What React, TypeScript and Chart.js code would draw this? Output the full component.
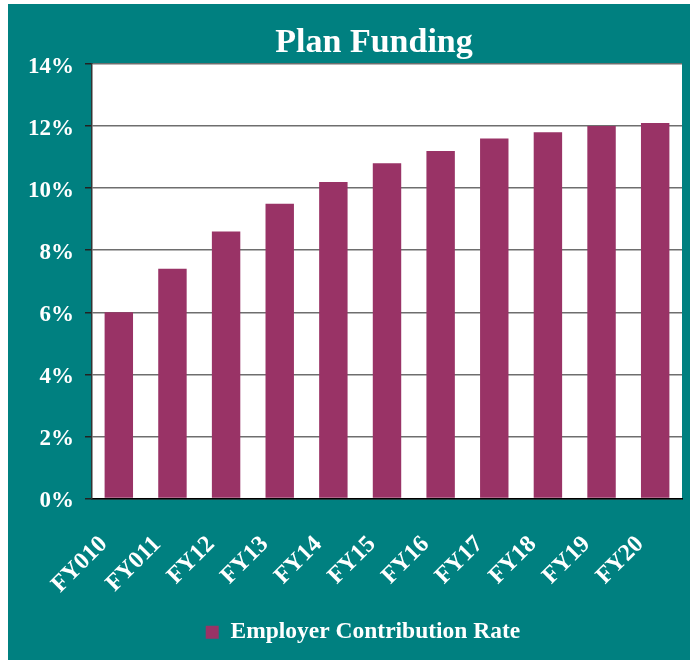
import React, { useEffect, useRef } from "react";
import { Chart, registerables } from "chart.js";

Chart.register(...registerables);

const categories = ["FY010", "FY011", "FY12", "FY13", "FY14", "FY15", "FY16", "FY17", "FY18", "FY19", "FY20"];
const employerRates = [6.0, 7.4, 8.6, 9.5, 10.2, 10.8, 11.2, 11.6, 11.8, 12.0, 12.1];
const seriesLabel = "Employer Contribution Rate";
const chartTitle = "Plan Funding";
const yMin = 0;
const yMax = 14;
const yStep = 2;

const SERIF = "'Liberation Serif', 'Times New Roman', serif";
const TEAL = "#008080";
const MAROON = "#993366";

const plotBg = {
  id: "plotBg",
  beforeDraw(chart: any) {
    const { ctx, chartArea } = chart;
    if (!chartArea) return;
    ctx.save();
    ctx.fillStyle = "#ffffff";
    ctx.fillRect(chartArea.left, chartArea.top, chartArea.right - chartArea.left, chartArea.bottom - chartArea.top);
    ctx.restore();
  },
};

const titlePlugin = {
  id: "titleText",
  afterDraw(chart: any) {
    const { ctx } = chart;
    ctx.save();
    ctx.fillStyle = "#ffffff";
    ctx.font = `bold 34px ${SERIF}`;
    ctx.textAlign = "center";
    ctx.textBaseline = "alphabetic";
    ctx.fillText(chartTitle, 366, 48);
    ctx.restore();
  },
};

const legendShift = {
  id: "legendShift",
  afterLayout(chart: any) {
    const lg = chart.legend;
    if (lg) {
      lg.left += 10;
      lg.right += 10;
    }
  },
};

export default function App() {
  const ref = useRef<HTMLCanvasElement | null>(null);
  useEffect(() => {
    if (!ref.current) return;
    const chart = new Chart(ref.current, {
      type: "bar",
      data: {
        labels: categories,
        datasets: [
          {
            label: seriesLabel,
            data: employerRates,
            backgroundColor: MAROON,
            borderWidth: 0,
            barPercentage: 0.53,
            categoryPercentage: 1.0,
          },
        ],
      },
      options: {
        responsive: false,
        animation: false,
        devicePixelRatio: 1,
        layout: { padding: { left: 16, right: 8, top: 60, bottom: 6 } },
        plugins: {
          title: { display: false },
          legend: {
            display: true,
            position: "bottom",
            labels: {
              color: "#ffffff",
              font: { family: SERIF, size: 23.5, weight: "bold" },
              boxWidth: 13,
              boxHeight: 13,
              padding: 10,
            },
          },
          tooltip: { enabled: false },
        },
        scales: {
          x: {
            grid: { display: false, drawTicks: false },
            border: { display: true, color: "#000000", width: 1.5 },
            ticks: {
              color: "#ffffff",
              font: { family: SERIF, size: 24, weight: "bold" },
              maxRotation: 45,
              minRotation: 45,
              labelOffset: -15,
              padding: 32,
              autoSkip: false,
            },
            afterFit(scale: any) {
              scale.height = 112;
              scale.paddingRight = 0;
              scale.paddingLeft = 0;
            },
          },
          y: {
            min: yMin,
            max: yMax,
            grid: {
              color: "#6e6e6e",
              lineWidth: 1.5,
              drawTicks: true,
              tickLength: 7,
              tickColor: "#222222",
            },
            border: { display: true, color: "#333333", width: 1.5 },
            ticks: {
              stepSize: yStep,
              color: "#ffffff",
              font: { family: SERIF, size: 23, weight: "bold" },
              padding: 11,
              labelOffset: 3,
              callback: (v: any) => v + "%",
            },
            afterFit(scale: any) {
              scale.width = 68;
            },
          },
        },
      },
      plugins: [plotBg, titlePlugin, legendShift],
    });
    return () => chart.destroy();
  }, []);
  return (
    <div
      style={{
        position: "absolute",
        left: 8,
        top: 4,
        width: 682,
        height: 656,
        background: TEAL,
      }}
    >
      <canvas ref={ref} width={682} height={656} style={{ display: "block" }} />
    </div>
  );
}
